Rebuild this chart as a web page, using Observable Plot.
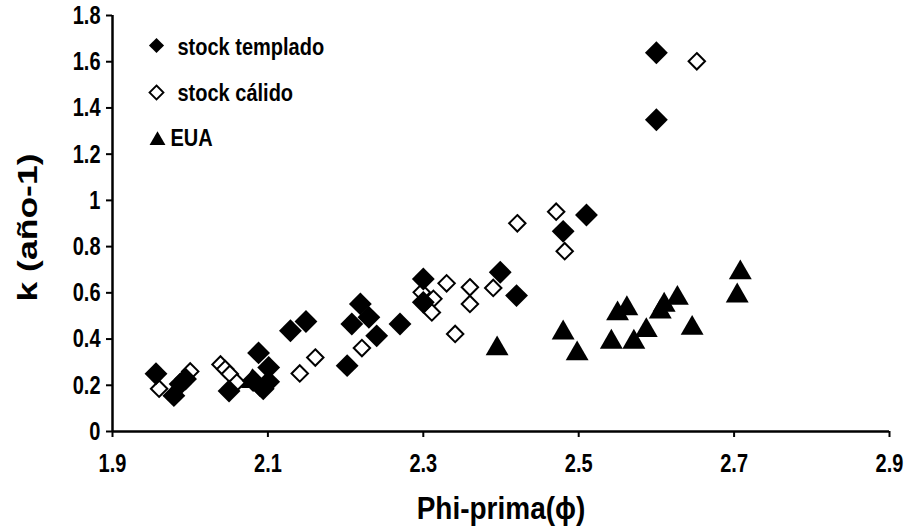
<!DOCTYPE html>
<html><head><meta charset="utf-8">
<script src="https://cdn.jsdelivr.net/npm/d3@7"></script>
<script src="https://cdn.jsdelivr.net/npm/@observablehq/plot@0.6"></script>
<style>
body{margin:0;background:#fff}
#chart{width:911px;height:527px}
</style>
</head><body><div id="chart"></div>
<script>
// stock templado (filled diamonds)
const templadoPhi = [1.956,1.979,1.987,1.994,2.05,2.088,2.081,2.094,2.101,2.101,2.129,2.149,2.202,2.219,2.208,2.23,2.24,2.27,2.30,2.30,2.399,2.42,2.48,2.51,2.60,2.60];
const templadoK   = [0.25,0.155,0.205,0.227,0.175,0.34,0.22,0.185,0.277,0.215,0.436,0.476,0.285,0.552,0.465,0.494,0.414,0.465,0.66,0.559,0.689,0.588,0.866,0.937,1.639,1.349];
// stock cálido (open diamonds)
const calidoPhi = [1.96,2.0,2.039,2.045,2.051,2.06,2.09,2.141,2.161,2.221,2.298,2.313,2.311,2.33,2.36,2.36,2.341,2.39,2.421,2.471,2.482,2.652];
const calidoK   = [0.185,0.26,0.29,0.27,0.249,0.212,0.19,0.251,0.32,0.361,0.602,0.574,0.515,0.641,0.624,0.552,0.422,0.621,0.901,0.951,0.78,1.602];
// EUA (triangles)
const euaPhi = [2.08,2.395,2.48,2.498,2.542,2.55,2.562,2.571,2.587,2.605,2.61,2.627,2.646,2.704,2.708];
const euaK   = [0.23,0.371,0.44,0.35,0.40,0.523,0.545,0.40,0.45,0.53,0.56,0.59,0.46,0.60,0.70];

const xTicks = [1.9,2.1,2.3,2.5,2.7,2.9];
const yTicks = [0,0.2,0.4,0.6,0.8,1,1.2,1.4,1.6,1.8];
const legendLabels = ["stock templado","stock cálido","EUA"];
const xTitle = "Phi-prima(ϕ)";
const yTitle = "k (año-1)";

const font = "Liberation Sans, Arial, Helvetica, sans-serif";
const zip = (xs, ys) => xs.map((x, i) => ({x, y: ys[i]}));
const templado = zip(templadoPhi, templadoK);
const calido = zip(calidoPhi, calidoK);
const eua = zip(euaPhi, euaK);

const chart = Plot.plot({
  width: 911, height: 527,
  marginLeft: 112, marginRight: 22, marginTop: 15, marginBottom: 96,
  style: {fontFamily: font, background: "#fff", color: "#000"},
  x: {domain: [1.9, 2.9]},
  y: {domain: [0, 1.8]},
  marks: [
    Plot.axisX({ticks: xTicks, tickSize: 6, tickPadding: 16, tickFormat: d => String(d), fontSize: 20, fontWeight: "bold", strokeWidth: 2, label: null}),
    Plot.axisY({ticks: yTicks, tickSize: 6, tickPadding: 6, tickFormat: d => String(d), fontSize: 20, fontWeight: "bold", strokeWidth: 2, label: null}),
    Plot.ruleY([0], {stroke: "#000", strokeWidth: 2.5}),
    Plot.ruleX([1.9], {stroke: "#000", strokeWidth: 2.5}),
    Plot.dot(calido, {x: "x", y: "y", symbol: "diamond2", r: 7.4, stroke: "#000", strokeWidth: 2, fill: "#fff"}),
    Plot.dot(templado, {x: "x", y: "y", symbol: "diamond2", r: 10.3, fill: "#000", stroke: "none"}),
    Plot.dot(eua, {x: "x", y: "y", symbol: "triangle", r: 8.5, fill: "#000", stroke: "none", dy: 3}),
    // legend
    Plot.dot([legendLabels[0]], {frameAnchor: "top-left", dx: 44, dy: 30, symbol: "diamond2", r: 6.8, fill: "#000"}),
    Plot.dot([legendLabels[1]], {frameAnchor: "top-left", dx: 44, dy: 77, symbol: "diamond2", r: 6.3, fill: "#fff", stroke: "#000", strokeWidth: 1.8}),
    Plot.dot([legendLabels[2]], {frameAnchor: "top-left", dx: 45, dy: 125, symbol: "triangle", r: 5.9, fill: "#000"}),
    Plot.text([legendLabels[0]], {frameAnchor: "top-left", dx: 65, dy: 32, text: d => d, textAnchor: "start", lineAnchor: "middle", fontSize: 20, fontWeight: "bold", fill: "#000"}),
    Plot.text([legendLabels[1]], {frameAnchor: "top-left", dx: 65, dy: 78, text: d => d, textAnchor: "start", lineAnchor: "middle", fontSize: 20, fontWeight: "bold", fill: "#000"}),
    Plot.text([legendLabels[2]], {frameAnchor: "top-left", dx: 58, dy: 123, text: d => d, textAnchor: "start", lineAnchor: "middle", fontSize: 20, fontWeight: "bold", fill: "#000"}),
    // axis titles
    Plot.text([xTitle], {frameAnchor: "bottom", dy: 77, text: d => d, textAnchor: "middle", lineAnchor: "middle", fontSize: 28, fontWeight: "bold", fill: "#000"}),
    Plot.text([yTitle], {frameAnchor: "left", dx: -84, dy: 4, rotate: -90, text: d => d, textAnchor: "middle", lineAnchor: "middle", fontSize: 28, fontWeight: "bold", fill: "#000"})
  ]
});

// the reference's lettering is drawn taller than it is wide: stretch text vertically about its anchor
const stretch = t => legendLabels.includes(t) ? 1.15 : (t === xTitle ? 1.15 : (t === yTitle ? 1.27 : 1.3));
d3.select(chart).selectAll("text").each(function() {
  const el = d3.select(this);
  const k = stretch(el.text());
  const t = el.attr("transform") || "";
  const s = /rotate/.test(t) ? `scale(${k},1)` : `scale(1,${k})`;
  el.attr("transform", `${t} ${s}`);
});
document.getElementById("chart").appendChild(chart);
</script>
</body></html>
